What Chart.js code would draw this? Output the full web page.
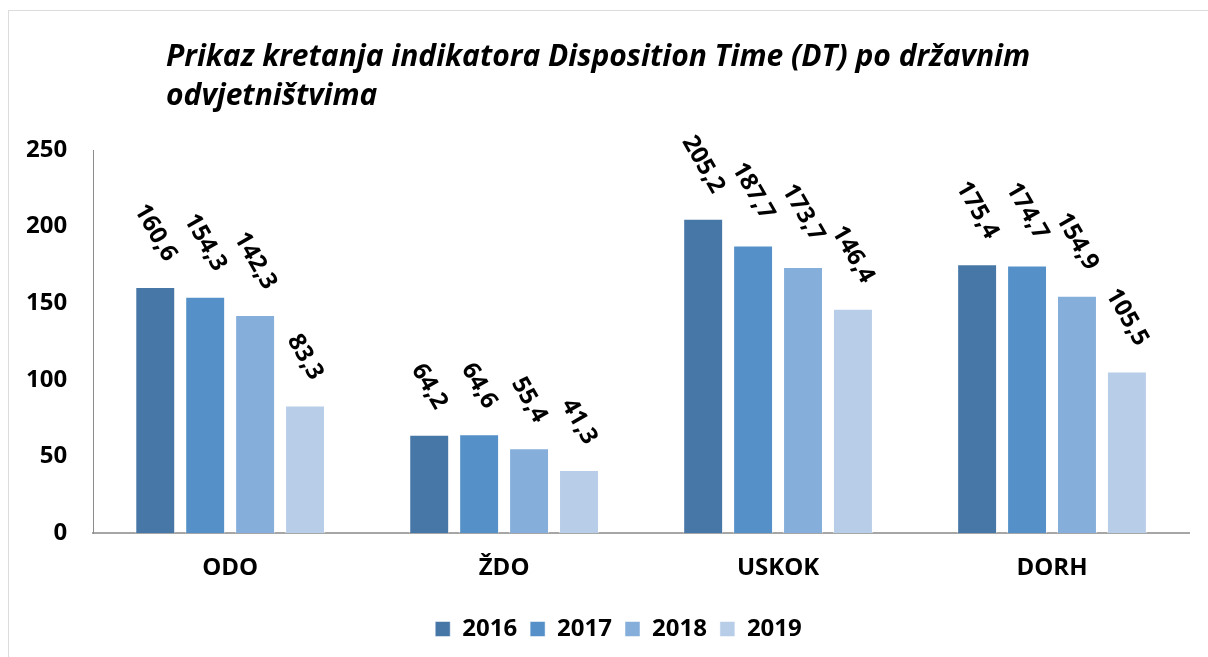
<!DOCTYPE html>
<html lang="hr">
<head>
<meta charset="utf-8">
<title>Disposition Time (DT)</title>
<script src="https://cdn.jsdelivr.net/npm/chart.js@4.4.1/dist/chart.umd.min.js"></script>
<style>
    html, body { margin: 0; padding: 0; background: #fff; overflow: hidden; }
    #frame {
        position: absolute; left: 8px; top: 10px;
        width: 1400px; height: 800px;
        border: 1px solid #dcdcdc;
    }
    #wrap { position: absolute; left: 0; top: 0; width: 1208px; height: 657px; }
</style>
</head>
<body>
<div id="frame"></div>
<div id="wrap"><canvas id="dtChart"></canvas></div>
<script>
const categories = ['ODO', 'ŽDO', 'USKOK', 'DORH'];
const years = ['2016', '2017', '2018', '2019'];
const values2016 = [160.6, 64.2, 205.2, 175.4];
const values2017 = [154.3, 64.6, 187.7, 174.7];
const values2018 = [142.3, 55.4, 173.7, 154.9];
const values2019 = [83.3, 41.3, 146.4, 105.5];
const yTicks = [0, 50, 100, 150, 200, 250];
const titleLines = ['Prikaz kretanja indikatora Disposition Time (DT) po državnim', 'odvjetništvima'];

const colors = ['#4677a7', '#5591c8', '#85aedb', '#b8cde8'];
const FONT = '"Open Sans", "Liberation Sans", sans-serif';

const fmt = v => v.toFixed(1).replace('.', ',');

// naslov poravnat lijevo, dva reda
const titlePlugin = {
    id: 'leftTitle',
    afterLayout(chart) {
        // legenda je u originalu malo desno od sredine
        chart.legend.left += 24;
        chart.legend.right += 24;
    },
    afterDraw(chart) {
        const ctx = chart.ctx;
        ctx.save();
        ctx.fillStyle = '#000';
        ctx.font = 'italic bold 30px ' + FONT;
        ctx.textAlign = 'left';
        ctx.textBaseline = 'alphabetic';
        ctx.fillText(titleLines[0], 166, 66);
        ctx.fillText(titleLines[1], 166, 105);
        ctx.restore();
    }
};

// rotirane oznake vrijednosti iznad stupaca
const valueLabels = {
    id: 'valueLabels',
    afterDatasetsDraw(chart) {
        const ctx = chart.ctx;
        ctx.save();
        ctx.font = 'bold 24px ' + FONT;
        ctx.fillStyle = '#000';
        ctx.textAlign = 'center';
        ctx.textBaseline = 'middle';
        const ang = 60 * Math.PI / 180;
        chart.data.datasets.forEach((ds, i) => {
            const meta = chart.getDatasetMeta(i);
            meta.data.forEach((bar, j) => {
                const txt = fmt(ds.data[j]);
                const w = ctx.measureText(txt).width;
                const boxH = w * Math.sin(ang) + 18 * Math.cos(ang);
                const cy = bar.y - 23 - boxH / 2;
                ctx.save();
                ctx.translate(bar.x, cy);
                ctx.rotate(ang);
                ctx.fillText(txt, 0, 0);
                ctx.restore();
            });
        });
        ctx.restore();
    }
};

const seriesValues = [values2016, values2017, values2018, values2019];

new Chart(document.getElementById('dtChart'), {
    type: 'bar',
    data: {
        labels: categories,
        datasets: years.map((y, i) => ({
            label: y,
            data: seriesValues[i],
            backgroundColor: colors[i],
            borderColor: 'rgba(255,255,255,0.5)',
            borderWidth: 1,
            barPercentage: 0.8,
            categoryPercentage: 0.729
        }))
    },
    options: {
        responsive: true,
        maintainAspectRatio: false,
        animation: false,
        layout: { padding: { top: 150, left: 0, right: 19, bottom: 6 } },
        scales: {
            x: {
                grid: { display: false, drawTicks: false },
                border: { display: true, color: '#a6a6a6', width: 2 },
                ticks: {
                    color: '#000',
                    padding: 21,
                    font: { family: FONT, size: 24, weight: 'bold' }
                }
            },
            y: {
                min: 0,
                max: 250,
                afterBuildTicks(scale) { scale.ticks = yTicks.map(v => ({ value: v })); },
                grid: { display: false, drawTicks: false },
                border: { display: true, color: '#8c8c8c', width: 1 },
                ticks: {
                    color: '#000',
                    padding: 26,
                    font: { family: FONT, size: 24, weight: 'bold' }
                }
            }
        },
        plugins: {
            title: { display: false },
            tooltip: { enabled: false },
            legend: {
                position: 'bottom',
                labels: {
                    color: '#000',
                    boxWidth: 15,
                    boxHeight: 15,
                    padding: 13,
                    font: { family: FONT, size: 24, weight: 'bold' }
                }
            }
        }
    },
    plugins: [titlePlugin, valueLabels]
});
</script>
</body>
</html>
